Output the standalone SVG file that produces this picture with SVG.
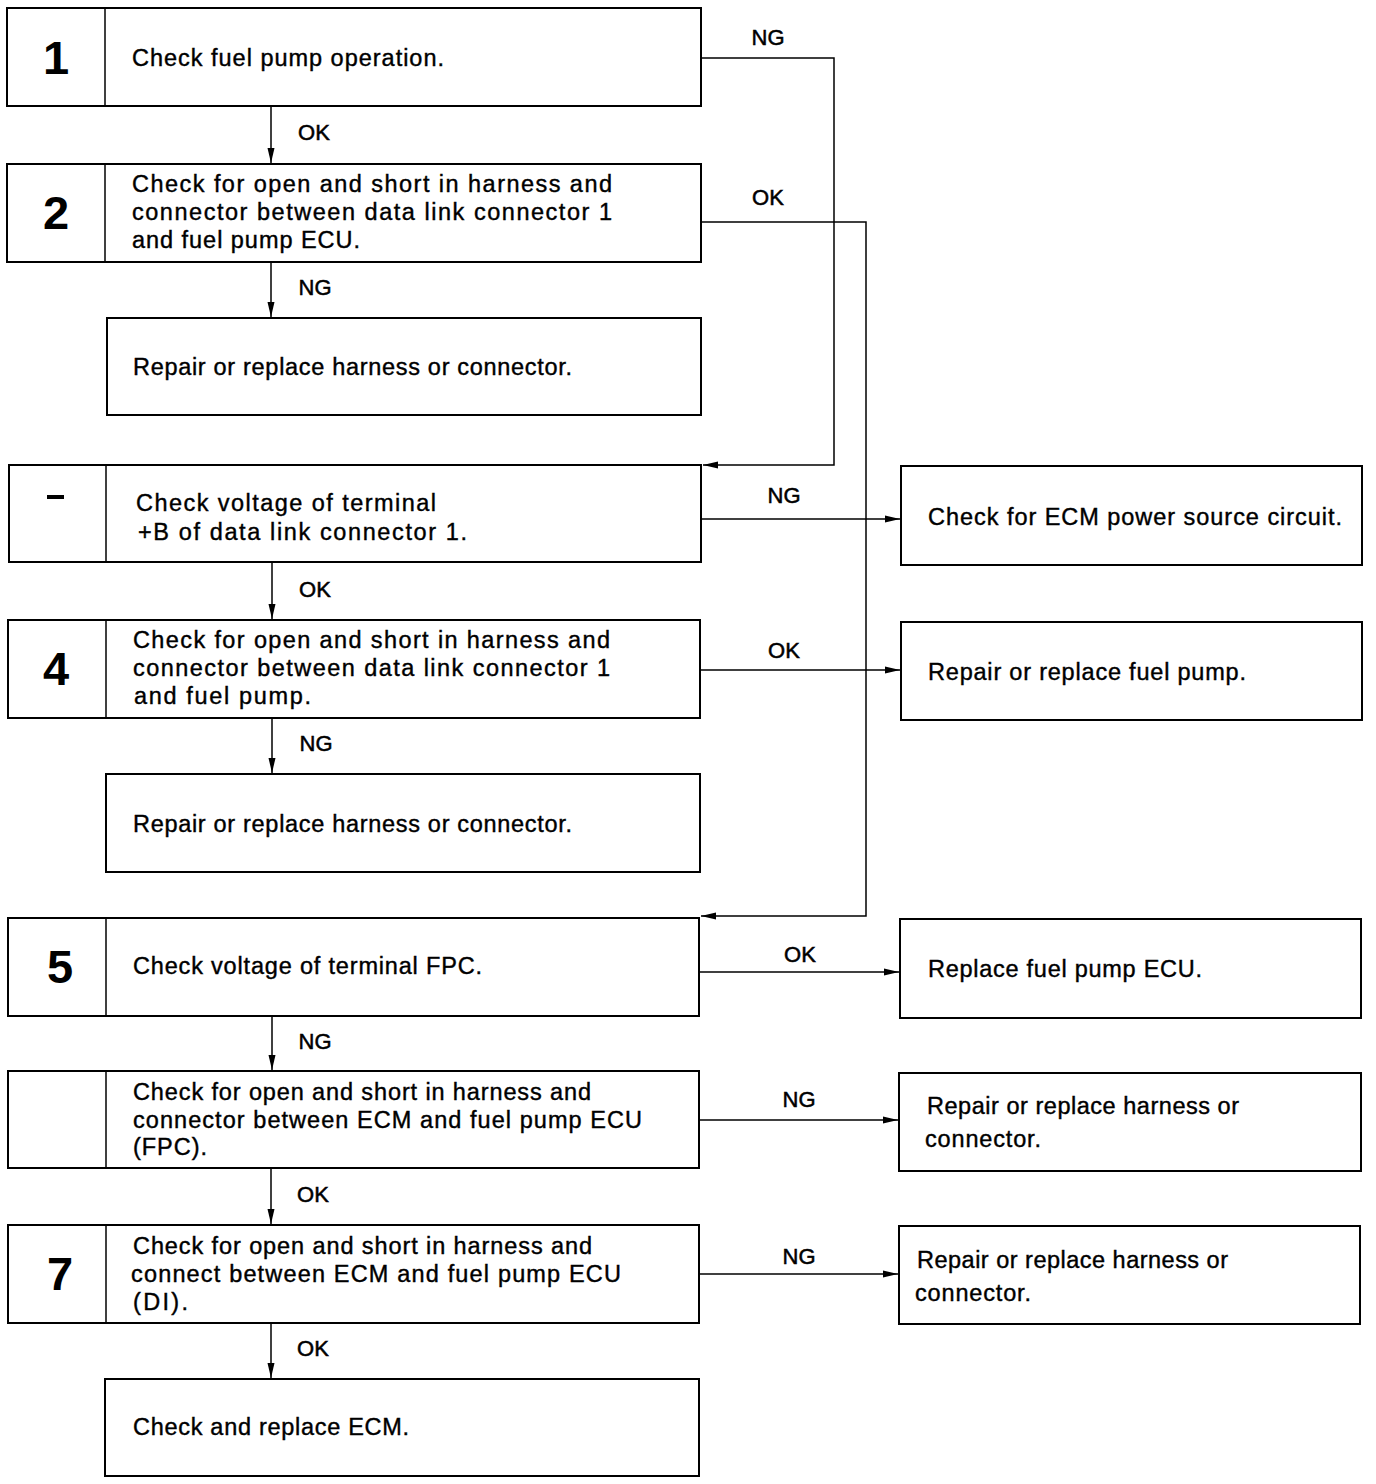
<svg xmlns="http://www.w3.org/2000/svg" width="1376" height="1484" viewBox="0 0 1376 1484">
<defs>
<marker id="ah" markerWidth="16" markerHeight="9" refX="15" refY="4.5" orient="auto" markerUnits="userSpaceOnUse">
<path d="M0,1 L15,4.5 L0,8 z" fill="#000"/>
</marker>
<style>
.box{fill:#fff;stroke:#000;stroke-width:2}
.div{stroke:#000;stroke-width:1.5}
.t{font-family:"Liberation Sans",Arial,sans-serif;font-size:23.5px;fill:#000;stroke:#000;stroke-width:0.4}
.n{font-family:"Liberation Sans",Arial,sans-serif;font-size:47px;font-weight:bold;fill:#000;text-anchor:middle}
.l{font-family:"Liberation Sans",Arial,sans-serif;font-size:22px;fill:#000;stroke:#000;stroke-width:0.5;text-anchor:middle}
.c{fill:none;stroke:#000;stroke-width:1.5}
</style>
</defs>
<rect width="1376" height="1484" fill="#fff"/>

<g id="step1">
<rect class="box" x="7" y="8" width="694" height="98"/>
<line class="div" x1="105" y1="8" x2="105" y2="106"/>
<text class="n" x="56" y="74">1</text>
<text class="t" x="132" y="66" textLength="312" lengthAdjust="spacing">Check fuel pump operation.</text>
</g>

<g id="step2">
<rect class="box" x="7" y="164" width="694" height="98"/>
<line class="div" x1="105" y1="164" x2="105" y2="262"/>
<text class="n" x="56" y="229">2</text>
<text class="t" x="132" y="192" textLength="480" lengthAdjust="spacing">Check for open and short in harness and</text>
<text class="t" x="132" y="220" textLength="480" lengthAdjust="spacing">connector between data link connector 1</text>
<text class="t" x="132" y="248" textLength="228" lengthAdjust="spacing">and fuel pump ECU.</text>
</g>

<g id="repair1">
<rect class="box" x="107" y="318" width="594" height="97"/>
<text class="t" x="133" y="375" textLength="439" lengthAdjust="spacing">Repair or replace harness or connector.</text>
</g>

<g id="step3">
<rect class="box" x="9" y="465" width="692" height="97"/>
<line class="div" x1="106" y1="465" x2="106" y2="562"/>
<rect x="47" y="495" width="17" height="4" fill="#000"/>
<text class="t" x="136" y="511" textLength="300" lengthAdjust="spacing">Check voltage of terminal</text>
<text class="t" x="138" y="540" textLength="329" lengthAdjust="spacing">+B of data link connector 1.</text>
</g>

<g id="ecmpower">
<rect class="box" x="901" y="466" width="461" height="99"/>
<text class="t" x="928" y="525" textLength="414" lengthAdjust="spacing">Check for ECM power source circuit.</text>
</g>

<g id="step4">
<rect class="box" x="8" y="620" width="692" height="98"/>
<line class="div" x1="106" y1="620" x2="106" y2="718"/>
<text class="n" x="56" y="685">4</text>
<text class="t" x="133" y="648" textLength="477" lengthAdjust="spacing">Check for open and short in harness and</text>
<text class="t" x="133" y="676" textLength="477" lengthAdjust="spacing">connector between data link connector 1</text>
<text class="t" x="134" y="704" textLength="177" lengthAdjust="spacing">and fuel pump.</text>
</g>

<g id="fuelpump">
<rect class="box" x="901" y="622" width="461" height="98"/>
<text class="t" x="928" y="680" textLength="318" lengthAdjust="spacing">Repair or replace fuel pump.</text>
</g>

<g id="repair2">
<rect class="box" x="106" y="774" width="594" height="98"/>
<text class="t" x="133" y="832" textLength="439" lengthAdjust="spacing">Repair or replace harness or connector.</text>
</g>

<g id="step5">
<rect class="box" x="8" y="918" width="691" height="98"/>
<line class="div" x1="106" y1="918" x2="106" y2="1016"/>
<text class="n" x="60" y="983">5</text>
<text class="t" x="133" y="974" textLength="349" lengthAdjust="spacing">Check voltage of terminal FPC.</text>
</g>

<g id="replaceecu">
<rect class="box" x="900" y="919" width="461" height="99"/>
<text class="t" x="928" y="977" textLength="274" lengthAdjust="spacing">Replace fuel pump ECU.</text>
</g>

<g id="step6">
<rect class="box" x="8" y="1071" width="691" height="97"/>
<line class="div" x1="106" y1="1071" x2="106" y2="1168"/>
<text class="t" x="133" y="1100" textLength="458" lengthAdjust="spacing">Check for open and short in harness and</text>
<text class="t" x="133" y="1128" textLength="509" lengthAdjust="spacing">connector between ECM and fuel pump ECU</text>
<text class="t" x="133" y="1155" textLength="74" lengthAdjust="spacing">(FPC).</text>
</g>

<g id="repair3">
<rect class="box" x="899" y="1073" width="462" height="98"/>
<text class="t" x="927" y="1114" textLength="312" lengthAdjust="spacing">Repair or replace harness or</text>
<text class="t" x="925" y="1147" textLength="116" lengthAdjust="spacing">connector.</text>
</g>

<g id="step7">
<rect class="box" x="8" y="1225" width="691" height="98"/>
<line class="div" x1="106" y1="1225" x2="106" y2="1323"/>
<text class="n" x="60" y="1290">7</text>
<text class="t" x="133" y="1254" textLength="459" lengthAdjust="spacing">Check for open and short in harness and</text>
<text class="t" x="131" y="1282" textLength="490" lengthAdjust="spacing">connect between ECM and fuel pump ECU</text>
<text class="t" x="133" y="1310" textLength="55" lengthAdjust="spacing">(DI).</text>
</g>

<g id="repair4">
<rect class="box" x="899" y="1226" width="461" height="98"/>
<text class="t" x="917" y="1268" textLength="311" lengthAdjust="spacing">Repair or replace harness or</text>
<text class="t" x="915" y="1301" textLength="116" lengthAdjust="spacing">connector.</text>
</g>

<g id="ecm">
<rect class="box" x="105" y="1379" width="594" height="97"/>
<text class="t" x="133" y="1435" textLength="276" lengthAdjust="spacing">Check and replace ECM.</text>
</g>

<g id="connectors">
<path class="c" d="M271,107 V163" marker-end="url(#ah)"/>
<text class="l" x="314" y="140">OK</text>
<path class="c" d="M271,263 V317" marker-end="url(#ah)"/>
<text class="l" x="315" y="295">NG</text>
<path class="c" d="M272,563 V619" marker-end="url(#ah)"/>
<text class="l" x="315" y="597">OK</text>
<path class="c" d="M272,719 V773" marker-end="url(#ah)"/>
<text class="l" x="316" y="751">NG</text>
<path class="c" d="M272,1017 V1070" marker-end="url(#ah)"/>
<text class="l" x="315" y="1049">NG</text>
<path class="c" d="M271,1169 V1224" marker-end="url(#ah)"/>
<text class="l" x="313" y="1202">OK</text>
<path class="c" d="M271,1324 V1378" marker-end="url(#ah)"/>
<text class="l" x="313" y="1356">OK</text>

<path class="c" d="M702,58 H834 V465 H703" marker-end="url(#ah)"/>
<text class="l" x="768" y="45">NG</text>
<path class="c" d="M702,222 H866 V916 H701" marker-end="url(#ah)"/>
<text class="l" x="768" y="205">OK</text>
<path class="c" d="M702,519 H900" marker-end="url(#ah)"/>
<text class="l" x="784" y="503">NG</text>
<path class="c" d="M701,670 H900" marker-end="url(#ah)"/>
<text class="l" x="784" y="658">OK</text>
<path class="c" d="M700,972 H899" marker-end="url(#ah)"/>
<text class="l" x="800" y="962">OK</text>
<path class="c" d="M700,1120 H898" marker-end="url(#ah)"/>
<text class="l" x="799" y="1107">NG</text>
<path class="c" d="M700,1274 H898" marker-end="url(#ah)"/>
<text class="l" x="799" y="1264">NG</text>
</g>
</svg>
